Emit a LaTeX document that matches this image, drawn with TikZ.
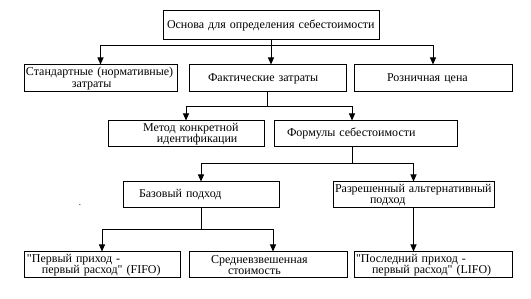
\documentclass[tikz,border=0pt]{standalone}
\usepackage{fontspec}
\setmainfont{Liberation Serif}
\usepackage{tikz}
\usetikzlibrary{arrows.meta}

\tikzset{
  box/.style={draw, rectangle, align=left, inner xsep=2pt, inner ysep=0pt,
    minimum height=26pt, text width=#1,
    font=\fontsize{12}{11.5}\selectfont},
  arr/.style={-{Triangle[width=6pt,length=7pt]}}
}

\begin{document}
\begin{tikzpicture}[x=1pt, y=-1pt, line width=1pt]
      \useasboundingbox (0,0) rectangle (531,299);

      % Define boxes
      \node[box=212pt, minimum height=29pt] (basis) at (271,25.5) {\hspace*{2pt}Основа для определения себестоимости};
      \node[box=149pt, minimum height=27pt] (standard) at (100.5,78.5) {Стандартные (нормативные)\\\hspace*{46pt}затраты};
      \node[box=153pt, minimum height=27pt] (actual) at (267.5,78.5) {\hspace*{17pt}Фактические затраты};
      \node[box=154pt, minimum height=27pt] (retail) at (433,78.5) {\hspace*{31pt}Розничная цена};
      \node[box=152pt] (specific) at (186,134) {\hspace*{33pt}Метод конкретной\\\hspace*{47pt}идентификации};
      \node[box=179pt] (formulas) at (365.5,134) {\hspace*{11pt}Формулы себестоимости};
      \node[box=152pt] (basic) at (201,195) {\hspace*{14pt}Базовый подход};
      \node[box=157pt] (allowed) at (413.5,195) {Разрешенный альтернативный\\\hspace*{35pt}подход};
      \node[box=152pt] (fifo) at (102,265) {\hspace*{1pt}\textquotedbl Первый приход -\\\hspace*{16pt}первый расход\textquotedbl{} (FIFO)};
      \node[box=154pt] (average) at (268,265) {\hspace*{20pt}Средневзвешенная\\\hspace*{37pt}стоимость};
      \node[box=154pt] (lifo) at (433,265) {\textquotedbl Последний приход -\\\hspace*{16pt}первый расход\textquotedbl{} (LIFO)};
      \node[inner sep=0pt, font=\small] (dot) at (80,205) {.};

      % Define branch points
      \coordinate (split_basis) at (271,46);
      \coordinate (split_actual) at (267.5,107);
      \coordinate (split_formulas) at (352,164);
      \coordinate (split_basic) at (201,230);

      % Draw branches from the basis
      \draw (basis.south) -- (split_basis);
      \draw[arr] (split_basis) -| (standard.north);
      \draw[arr] (split_basis) -- (split_basis |- actual.north);
      \draw[arr] (split_basis) -| (retail.north);

      % Draw branches from actual costs
      \draw (actual.south) -- (split_actual);
      \draw[arr] (split_actual) -| (specific.north);
      \draw[arr] (split_actual) -| (split_formulas |- formulas.north);

      % Draw branches from cost formulas
      \draw (split_formulas |- formulas.south) -- (split_formulas);
      \draw[arr] (split_formulas) -| (basic.north);
      \draw[arr] (split_formulas) -| (allowed.north);

      % Draw branches to the methods
      \draw (basic.south) -- (split_basic);
      \draw[arr] (split_basic) -| (fifo.north);
      \draw[arr] (split_basic) -| ([xshift=5pt]average.north);
      \draw[arr] (allowed.south) -- (allowed.south |- lifo.north);
    \end{tikzpicture}
\end{document}
